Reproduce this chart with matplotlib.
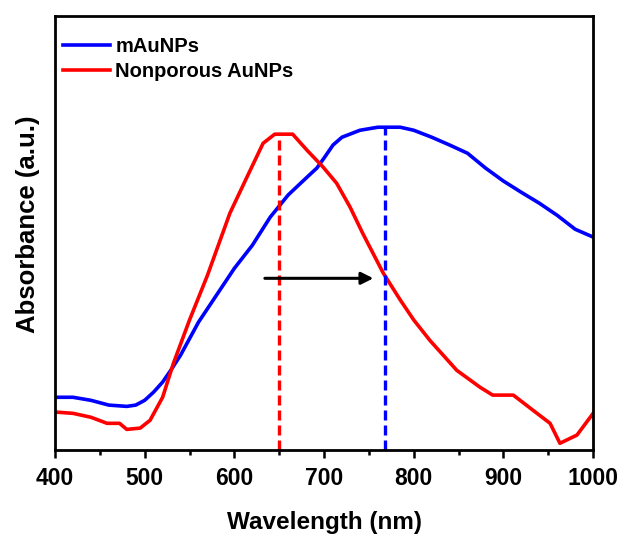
import matplotlib

matplotlib.use("Agg")
import matplotlib.pyplot as plt
from matplotlib.ticker import MultipleLocator

# (a.u., baseline = bottom of axes)
blue_wl = [400, 420, 440, 460, 480, 490, 500, 510, 520, 530, 540, 560, 580, 600,
           620, 640, 660, 680, 692, 700, 710, 720, 740, 760, 785, 800, 820, 840,
           860, 880, 900, 920, 940, 960, 980, 990, 1000]
blue_abs = [0.122, 0.122, 0.115, 0.104, 0.101, 0.104, 0.115, 0.134, 0.157, 0.187,
            0.219, 0.295, 0.357, 0.419, 0.472, 0.537, 0.588, 0.627, 0.650, 0.673,
            0.703, 0.721, 0.737, 0.744, 0.744, 0.737, 0.721, 0.703, 0.684, 0.650,
            0.620, 0.594, 0.569, 0.541, 0.509, 0.500, 0.491]

red_wl = [400, 420, 440, 458, 472, 480, 495, 506, 520, 532, 550, 570, 595, 614,
          632, 645, 665, 681, 699, 714, 729, 743, 766, 785, 800, 818, 848, 874,
          888, 911, 933, 952, 963, 982, 1000]
red_abs = [0.088, 0.085, 0.076, 0.062, 0.062, 0.048, 0.051, 0.069, 0.122, 0.200,
           0.300, 0.403, 0.546, 0.629, 0.707, 0.728, 0.728, 0.691, 0.652, 0.615,
           0.560, 0.500, 0.408, 0.346, 0.300, 0.253, 0.184, 0.145, 0.127, 0.127,
           0.092, 0.062, 0.016, 0.035, 0.085]

red_peak = 650
blue_peak = 768
arrow_start, arrow_end, arrow_y = 634, 755, 0.396

plt.rcParams["font.family"] = ["Liberation Sans", "DejaVu Sans"]
plt.rcParams["font.weight"] = "bold"

fig = plt.figure(figsize=(6.25, 5.36), dpi=100)
ax = fig.add_axes([0.088, 0.160, 0.861, 0.810])

ax.plot(blue_wl, blue_abs, color="#0000ff", lw=2.6, label="mAuNPs")
ax.plot(red_wl, red_abs, color="#ff0000", lw=2.6, label="Nonporous AuNPs")

ax.vlines(red_peak, 0, 0.728, colors="#ff0000", linestyles=(0, (3, 1.5)), lw=2.4)
ax.vlines(blue_peak, 0, 0.744, colors="#0000ff", linestyles=(0, (3, 1.5)), lw=2.4)

ax.annotate("", xy=(arrow_end, arrow_y), xytext=(arrow_start, arrow_y),
            arrowprops=dict(arrowstyle="-|>", color="black", lw=2.2,
                            mutation_scale=18, shrinkA=0, shrinkB=0))

ax.set_xlim(400, 1000)
ax.set_ylim(0, 1.0)
ax.xaxis.set_major_locator(MultipleLocator(100))
ax.xaxis.set_minor_locator(MultipleLocator(50))
ax.set_yticks([])
ax.tick_params(axis="x", which="major", direction="out", length=6, width=1.8,
               labelsize=16.5, pad=6)
ax.tick_params(axis="x", which="minor", direction="out", length=3.5, width=1.8)
for lab in ax.get_xticklabels():
    lab.set_fontweight("bold")
for sp in ax.spines.values():
    sp.set_linewidth(2)

ax.set_xlabel("Wavelength (nm)", fontsize=17.5, fontweight="bold", labelpad=15)
ax.set_ylabel("Absorbance (a.u.)", fontsize=18.5, fontweight="bold")
ax.yaxis.set_label_coords(-0.028, 0.52)

ax.legend(loc="upper left", bbox_to_anchor=(0.002, 0.968), frameon=False,
          handlelength=2.35, handletextpad=0.25, labelspacing=0.3,
          borderaxespad=0, borderpad=0.35,
          prop={"weight": "bold", "size": 14.5})

fig.savefig("out.png", dpi=100)
